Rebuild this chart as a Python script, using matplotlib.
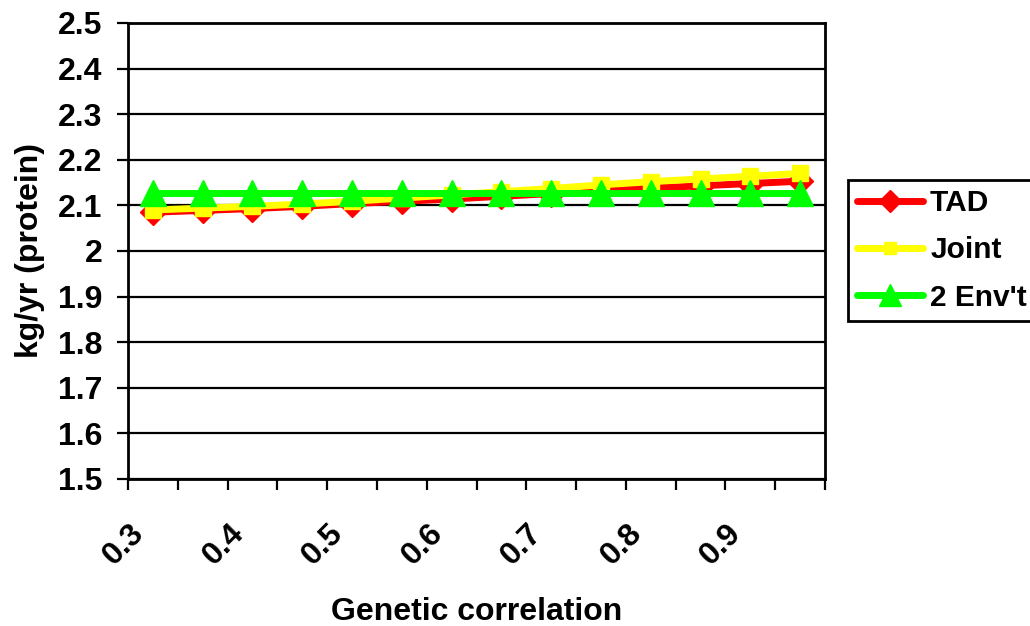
import matplotlib
matplotlib.use('Agg')
import matplotlib.pyplot as plt
from matplotlib.transforms import ScaledTranslation

# data
categories = [0.3, 0.35, 0.4, 0.45, 0.5, 0.55, 0.6, 0.65, 0.7, 0.75, 0.8, 0.85, 0.9, 0.95]
tad = [2.085, 2.089, 2.093, 2.098, 2.104, 2.109, 2.114, 2.120, 2.126, 2.132, 2.138, 2.143, 2.148, 2.153]
joint = [2.090, 2.094, 2.098, 2.103, 2.109, 2.116, 2.123, 2.130, 2.137, 2.145, 2.152, 2.158, 2.164, 2.170]
env2 = [2.127] * 14
y_ticks = [1.5, 1.6, 1.7, 1.8, 1.9, 2.0, 2.1, 2.2, 2.3, 2.4, 2.5]
y_tick_labels = ['1.5', '1.6', '1.7', '1.8', '1.9', '2', '2.1', '2.2', '2.3', '2.4', '2.5']

plt.rcParams['font.family'] = ['Liberation Sans', 'DejaVu Sans']
plt.rcParams['font.weight'] = 'bold'

W, H = 1030, 626
fig = plt.figure(figsize=(W / 100, H / 100), dpi=100)
ax = fig.add_axes([128 / W, 1 - 479 / H, 697 / W, 456 / H])

x = list(range(len(categories)))

style = dict(lw=5, solid_capstyle='round')
ax.plot(x, tad, color='#ff0000', marker='D', ms=13, mec='#ff0000', label='TAD', zorder=3, **style)
ax.plot(x, joint, color='#ffff00', marker='s', ms=11, mec='#ffff00', label='Joint', zorder=4, **style)
ax.plot(x, env2, color='#00ff00', marker='^', ms=19, mec='#00ff00', label="2 Env't", zorder=5, **style)

ax.set_ylim(1.5, 2.5)
ax.set_xlim(-0.5, len(categories) - 0.5)
ax.set_yticks(y_ticks)
ax.set_yticklabels(y_tick_labels, fontsize=23, fontweight='bold')
for yv in y_ticks:
    ax.axhline(yv, color='black', lw=1.6, zorder=1)

# category axis: tick marks between categories, labels every second category
ax.set_xticks([i - 0.5 for i in range(len(categories) + 1)])
ax.set_xticklabels([])
ax.set_xticks(x[::2], minor=True)
ax.set_xticklabels([f'{c:g}' for c in categories[::2]], minor=True,
                   rotation=45, ha='right', va='top', rotation_mode='anchor',
                   fontsize=23, fontweight='bold')
ax.tick_params(axis='x', which='minor', length=0, pad=28)
ax.tick_params(axis='both', which='major', direction='out', length=8, width=1.6, color='black')
ax.tick_params(axis='y', pad=10.5)
shift = ScaledTranslation(-24 / 100, 0, fig.dpi_scale_trans)
for lbl in ax.get_xticklabels(minor=True):
    lbl.set_transform(lbl.get_transform() + shift)

for s in ax.spines.values():
    s.set_linewidth(2)
    s.set_color('black')

ax.set_xlabel('Genetic correlation', fontsize=23, fontweight='bold', va='top')
ax.xaxis.set_label_coords(0.5, (479 - 597) / 456)
# rotated label: its 'bottom' edge is the side facing the axis
ax.set_ylabel('kg/yr (protein)', fontsize=23, fontweight='bold', va='bottom')
ax.yaxis.set_label_coords((45 - 128) / 697, 0.5)

leg = ax.legend(loc='upper left', bbox_to_anchor=(848 / W, 1 - 180 / H),
                bbox_transform=fig.transFigure, fontsize=21.5, frameon=True,
                fancybox=False, framealpha=1, edgecolor='black',
                handlelength=2.2, handletextpad=0.25, labelspacing=0.65,
                borderpad=0.3, borderaxespad=0, markerscale=0.85)
leg.get_frame().set_linewidth(2)

fig.savefig('out.png', dpi=100, facecolor='white')
